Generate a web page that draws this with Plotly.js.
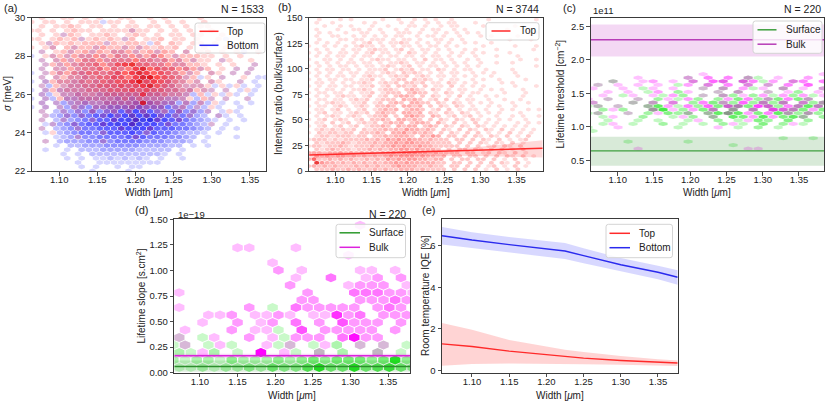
<!DOCTYPE html>
<html><head><meta charset="utf-8">
<script src="https://cdn.plot.ly/plotly-3.0.1.min.js"></script>
<style>html,body{margin:0;padding:0;background:#fff}#chart{width:830px;height:409px}</style>
</head><body><div id="chart"></div>
<script>
// ================= DATA =================
const xTickVals = [1.10, 1.15, 1.20, 1.25, 1.30, 1.35];

// (a) hexbin counts level (1-9), rows listed from top (high sigma) to bottom; '.' = empty
const aTopRows = [
".1..11.1.1..11..1.1....1.........",
"1.11.1.111.11.1..1.1.1..1........",
".1.1121.11.1.11.11.1.1.11........",
"11.1.1211.1111211.1.1.1..1.......",
".1.1121.1121.121.1.11.11..1......",
"11.121211212112.112.11.1..1......",
".112121222121221.2.21.11.1.......",
"1.12.2222232222221212.1.1..1.....",
".1.12223232333223232.2.12.1.1..1.",
"..122233343343433442222211.1.1...",
".1.2323444344454434332211.11..1..",
"..12233445446785544433221.1.1..1.",
".1.2233445454578665544322.1.1.1..",
"..1233445545667876654322.21.1.1..",
".1.22334455665789765422.1.1..1...",
"..1233344455667967654322.21..1...",
".1.2233445556567865432221.1.1....",
"..122333444555656554433221.1..1..",
".1.1223333444447444332.2.1.1.....",
"..1.2223333334343332221.21.1..1..",
".1.1.122223333383322.2.2.1.......",
"..1.1.21.2222232222.12.1.1.......",
".1..1.1.2.12.2.2.12.2.1.1..1.....",
"..1..1.1..1.1.1.1.1.1.1...1......",
".1..1...1..1..1..1..1............",
"...1..1...1...1....1.....1.......",
".1....1.....1...1................",
"...1......1.....1................",
"......1.......1..................",
"..1.......1......................",
".................................",
".................................",
".................................",
".................................",
".................................",
".................................",
"................................."];
const aBottomRows = [
".................................",
"..........1......................",
".................................",
"..............1..................",
"....1............................",
".......1.....1.............1.....",
"..1.......1.....1................",
"...1..1..1...1.1.................",
".1...1..1..11.1..1...1.......1...",
"1..1.1.11.1.11.1.1..1............",
".1.1.1.11.1111.1111.1.1...1......",
"..1.1.1111.111.1111.11.........1.",
".1.11.1111.11.11.111.1.1....1.1..",
"1.1.1.1211112.111.111.1..1..1.1..",
".1.1.11211121.121.1111.1..1....11",
"1.2.112212121121211211.1.1...1.1.",
".12.12222222222221221111.1.1.1.1.",
"1.2.2222222222222222212.11.1.1.1.",
".22.2232233333333322222.1.1.1.1..",
"1.22.33333334343333332.2.1.1..1..",
".2.2333433444455544433322.1.1.1..",
"1.2.233444455556555543322.1..1...",
".1.2334454556676654554432.1.1....",
"..12344556676787876655432.21.1...",
".1.23345566778989776654321.1.1...",
"..123455667787987766554321.1.....",
".1.2344556667787766655432.1.1....",
"..1.234554566676565543221.1......",
"...12334455556665554432.1...1....",
"..1.2333444455554443332.1........",
"...1.2233344444333322.1.1........",
"..1..1.2223333322222.1...........",
"....1.1.22222222221.1............",
".....1.1.11212121.1..1...........",
"......1..111111111...............",
".......1.1..1.11.................",
"........1....1..................."];

// (b) hexbin levels, rows from top (ratio 150) to bottom (0)
const bTopRows = [
"..1...1.1.....1..1..1.1.1..1......1........1",
".1..1.....1.1....1.1..1.1.11...1............",
"...1..1.1...1..1...11.1..1.11....1.....1....",
".1...1..11.1.1..1.1..1.11..1.1.......1......",
"..1.1..1..11..1..111.1..1.1.1.1.1..........1",
".1..11..1.1.1.1.11..1.11.1..1...1.1....1....",
"..1...11.11.111.1.11.1..11.1.1........1...1.",
".1.1.1..1.12.1.1121.1.1.1.1..1.1..1.........",
"1..1.1.1.1211.1.1.11.1.11.1.1....1.....1...1",
".1.1..1.11.1211.12.1.11.1.1..1.1...1......1.",
"1.1.1.11.1.12.11.1.21.1.1..1.1.1.1....1.....",
".1.1.11.1.11.1.11.11.1.11.1.1..1...1...1....",
"1..11.1.1.1.1211.11.1.2.11.1..1.1.......1..1",
".1.1.1.11.11.1.1121.11.1.1.1.1..1..1..1.....",
"1.1.1.11.1.11.121.12.1.11.1.1.1.1..........1",
".1.11.11.1.1112.1212.11.21.1.11..1....1.....",
"1.1.1.1.11.11.121.2121.1.1.11..1.1.1...1....",
".1.1.11.1.1211.1212.121.11.1.1.1..1....1....",
"1.1.11.11.112.1.122.2121.1.11..1.1..1....1..",
".11.1.1.1121.1212.2212.11.21.1.1....1.1.....",
"1.1.11.11.112.12.2212.2.11.2.1.1.1.....1...1",
".1.11.1.1121.1221.2321.21.1.11..1.1.1...1...",
"1.11.11.1.112.1222.2322.1.21.1.11....1...1..",
".1.1.1211.12.12.2332.2.21.1.2.1..1.1....1...",
"1.11.11.1212.1222.3232.12.2.1.11..1..1..1...",
".1.1211.112.12.232.3322.21.21.1.1.1...1..1..",
"1.11.121.121.2232.3323.2.21.21.1..1.1..1....",
".11.12.1.12.12323.2332.12.2.1.11.1..1.1..1.1",
"1.12.11.1212.2322.3323.21.21.21.1.1.1...1...",
".1.121.121.1223.2.3432.32.12.12.1..1..1.1..1",
"1.12.121.12.2232.33232.2.21.21.21.1.1.1..1..",
".11.2.12.1212.2323.2332.31.2.1.2.1.1...1.1.1",
"1.12.12.12.12232.3233.232.21.21.21.1.1.1.1..",
".12121212.21223232433232.21.2.21.21.2.1.1.1.",
"1.2122122.22232.33423232.2.21.2.2.1.1.2.1.1.",
".1221222122.22323332.3243.22.2.21.21.2.1.2.",
"122212122223232434343323222.22.2.21.2.1.12.",
".21222321222323343443332222.2.2.21.21.2.1..",
"12212232122232334343343322222.2.2.12.21.2.",
".212322212232323344343332.2.22.21.2.2.1.2.",
"22212232323232334344433232222.22.12.21.2.1",
".3232332323232343444343323.22.22.2.2.21.2.1",
"36223232322323243434433233.2.22.22.2.1.2.1.",
".8433232323232334343333322.22.2.2.2.21.2.1.",
"23232322232323223433322322.22.2.2.12.1.2.1.",
".2223223232232322333232222.2.2.2.1.2.1.2..."];
// (b) linear fit of Top and its confidence band
const bFitX = [1.064, 1.386];
const bFitY = [15.7, 22.2];
const bBandX = [1.064, 1.10, 1.15, 1.20, 1.25, 1.30, 1.34, 1.386];
const bBandHigh = [19.0, 18.6, 18.6, 19.3, 21.0, 23.8, 26.5, 30.0];
const bBandLow  = [12.3, 13.4, 14.3, 15.0, 15.0, 14.6, 14.0, 13.2];

// (c) lifetime threshold (units of 1e11 cm^-2)
const cSurfaceRows = [
"........................",
"........................",
"..........1.....21......",
"..2.......1..1.2.1..1...",
".1.......1..1...1.1.....",
".....1.....1.2..1..2...1",
"......1..2...1.2..1..2..",
"...1...1.2.1.22.2.1.2.1.",
"..1..1.2.1.2.2.3.223.32.",
"1...2.2.1.2.322.2323.223",
"12.1..34.1.2.3343.32.343",
".2.2..45.2.33.4.3.2233.3",
"12..1.2.323.3454.3.43232",
".1...2..1.2.3.43.4.343.2",
"..1..1.1..1..2.1.32.3.2.",
".1..1..2.1.1.2.1.3.2.1..",
"1........1.....1.2.1....",
"1.......................",
"........................",
"...................1..1.",
"....1.....1.............",
"..............1.........",
"........................",
"........................"];
const cBulkRows = [
"........................",
"...........1...........1",
".....1....2.3.3.2..1..2.",
"..1..12.1.3.44.43.2.33.3",
".1.1.1.1..2.3.3.3.2.3.4.",
"1..1..1.1..1.2.2.1.2.1.2",
"..1.1..2..1..1.2..1.1..1",
".1..1.1.2..1.2.1.2.2.2.1",
"1.1..1..1.2...2.3.2.3.2.",
"2...1.2.3..3.2.4.3.3.3.2",
".1.1..1.2.3.4.43.54.33.3",
"..1...2.1.2.3.2.3.543.2.",
".1..1..1..1.1.2.2.3.2.2.",
"..1......1..1...2.2..1..",
"...........1....1.......",
"..1...........1.....1...",
"...1.........1..........",
"........................",
"........................",
"........................",
"........................",
"........................",
".....1..........11......",
"........................"];
const cSurfaceFit = [0.64, 0.42, 0.85];  // value, low, high (1e11)
const cBulkFit    = [2.30, 2.05, 2.53];

// (d) lifetime slope (units of 1e-19 s.cm^2)
const dSurfaceRows = [
".....................",
".....................",
".....................",
".....................",
".....................",
".....................",
".....................",
".....................",
".....................",
".....................",
".....................",
".....................",
"........1............",
".....................",
".....................",
".........1...........",
"1.1......1...........",
"11.1.1...11.1.2.1.1.1",
"21.2.1.2..1.2.2..2.1.",
"212213222323434443473",
"112122324335744745643"];
const dBulkRows = [
".....................",
"................1....",
".....................",
".....................",
".....11...1..........",
"...............1.....",
"........1............",
".........2.1....11.1.",
"..........1..3..12.2.",
"..........2....1222.1",
"1..........2...333221",
"...........22...22232",
"1.....2...322222.232.",
"...112.1121.11523.222",
"..1..2.12.3.2.4222.2.",
".1...2.11..4.22222.2.",
"1..1..2.1.222.3622...",
".1..1...1.1..1..1.1..",
"..1....7.1..1....1...",
".....................",
"....................."];
const dSurfaceFit = [0.06, 0.01, 0.12];
const dBulkFit    = [0.166, 0.147, 0.186];

// (e) room temperature IQE [%]
const eX          = [1.0597, 1.10, 1.15, 1.20, 1.225, 1.25, 1.30, 1.35, 1.3765];
const eBottom     = [6.48, 6.27, 6.05, 5.85, 5.74, 5.52, 5.08, 4.72, 4.48];
const eBottomHigh = [6.90, 6.65, 6.42, 6.22, 6.13, 5.88, 5.40, 5.03, 4.82];
const eBottomLow  = [6.05, 5.88, 5.68, 5.48, 5.36, 5.15, 4.75, 4.38, 4.12];
const eTop        = [1.27, 1.14, 0.92, 0.74, 0.66, 0.58, 0.47, 0.39, 0.35];
const eTopHigh    = [2.28, 1.95, 1.45, 1.12, 0.98, 0.88, 0.68, 0.53, 0.47];
const eTopLow     = [0.22, 0.30, 0.32, 0.32, 0.31, 0.29, 0.26, 0.22, 0.20];

const nLabels = ['N = 1533', 'N = 3744', 'N = 220', 'N = 220'];

// ================= DRAWING =================
const W = 830, H = 409;
const dom = {
  a: {x: [31.7, 266.0], y: [17.7, 171.0]},
  b: {x: [309.0, 542.7], y: [17.7, 171.0]},
  c: {x: [590.7, 824.0], y: [17.7, 171.0]},
  d: {x: [174.3, 410.0], y: [219.3, 372.7]},
  e: {x: [442.0, 677.7], y: [219.3, 372.7]}
};
const ranges = {
  a: {x: [1.064, 1.371], y: [22, 30]},
  b: {x: [1.0637, 1.386], y: [0, 150]},
  c: {x: [1.0628, 1.3845], y: [0.34, 2.63]},
  d: {x: [1.066, 1.379], y: [0, 1.5]},
  e: {x: [1.0597, 1.3765], y: [-0.12, 7.27]}
};
const grids = {
  a: {x0: 1.068, dx: 0.00945, y0: 22.0, dy: 0.2222},
  b: {x0: 1.067, dx: 0.0073, y0: 1.6, dy: 3.26},
  c: {x0: 1.066, dx: 0.0138, y0: 0.62, dy: 0.053},
  d: {x0: 1.0725, dx: 0.0155, y0: 0.05, dy: 0.0733}
};
const axIds = {a: ['x', 'y'], b: ['x2', 'y2'], c: ['x3', 'y3'], d: ['x4', 'y4'], e: ['x5', 'y5']};

function hexTraces(rows, g, rgb, ax, a0, step, dark) {
  const n = rows.length, k = 0.9, byL = {};
  rows.forEach((s, i) => {
    const r = n - 1 - i;
    const yc = g.y0 + r * g.dy;
    const shift = (r % 2) ? -0.5 : 0;
    for (let c = 0; c < s.length; c++) {
      const ch = s[c];
      if (ch < '1' || ch > '9') continue;
      const L = +ch;
      const xc = g.x0 + (c + shift) * g.dx;
      const o = byL[L] || (byL[L] = {x: [], y: []});
      const hw = g.dx / 2 * k, h1 = g.dy * 2 / 3 * k, h2 = g.dy / 3 * k;
      o.x.push(xc, xc + hw, xc + hw, xc, xc - hw, xc - hw, xc, null);
      o.y.push(yc + h1, yc + h2, yc - h2, yc - h1, yc - h2, yc + h2, yc + h1, null);
    }
  });
  return Object.keys(byL).sort().map(L => {
    const lv = +L;
    const col = (lv >= 8 && dark) ? dark : rgb;
    const al = Math.min(1, a0 + step * lv);
    return {type: 'scatter', mode: 'lines', x: byL[L].x, y: byL[L].y, fill: 'toself',
      fillcolor: 'rgba(' + col + ',' + al.toFixed(3) + ')', line: {width: 0, color: 'rgba(0,0,0,0)'},
      xaxis: ax[0], yaxis: ax[1], hoverinfo: 'skip', showlegend: false};
  });
}
function band(x, lo, hi, col, ax) {
  return [
    {type: 'scatter', mode: 'lines', x: x, y: lo, line: {width: 0, color: 'rgba(0,0,0,0)'}, xaxis: ax[0], yaxis: ax[1], hoverinfo: 'skip', showlegend: false},
    {type: 'scatter', mode: 'lines', x: x, y: hi, fill: 'tonexty', fillcolor: col, line: {width: 0, color: 'rgba(0,0,0,0)'}, xaxis: ax[0], yaxis: ax[1], hoverinfo: 'skip', showlegend: false}
  ];
}
function line(x, y, col, w, name, ax) {
  return {type: 'scatter', mode: 'lines', x: x, y: y, line: {color: col, width: w}, xaxis: ax[0], yaxis: ax[1], hoverinfo: 'skip', name: name || '', showlegend: false};
}
function hline(fit, p, col, bandCol, name) {
  const xr = ranges[p].x;
  return [].concat(band(xr, [fit[1], fit[1]], [fit[2], fit[2]], bandCol, axIds[p]),
    [line(xr, [fit[0], fit[0]], col, 1.4, name, axIds[p])]);
}

const RED = '255,0,0', BLUE = '0,0,255', GREEN = '0,225,0', MAG = '255,0,255';
const COL = {top: '#ff2a2a', bottom: '#2a2aee', surfC: '#3f9f3f', bulkC: '#b73db7', surfD: '#2d9a2d', bulkD: '#dd22dd'};
let traces = [];
// (a)
traces = traces.concat(hexTraces(aBottomRows, grids.a, BLUE, axIds.a, 0.07, 0.09, '20,20,235'));
traces = traces.concat(hexTraces(aTopRows, grids.a, RED, axIds.a, 0.07, 0.09, '230,0,0'));
// (b)
traces = traces.concat(hexTraces(bTopRows, grids.b, RED, axIds.b, 0.04, 0.09, '230,0,0'));
traces = traces.concat(band(bBandX, bBandLow, bBandHigh, 'rgba(255,0,0,0.15)', axIds.b));
traces.push(line(bFitX, bFitY, COL.top, 1.4, 'Top', axIds.b));
// (c)
traces = traces.concat(hexTraces(cSurfaceRows, grids.c, GREEN, axIds.c, 0.12, 0.12, '0,200,0'));
traces = traces.concat(hexTraces(cBulkRows, grids.c, MAG, axIds.c, 0.12, 0.12, '230,0,230'));
traces = traces.concat(hline(cSurfaceFit, 'c', COL.surfC, 'rgba(40,140,40,0.18)', 'Surface'));
traces = traces.concat(hline(cBulkFit, 'c', COL.bulkC, 'rgba(200,60,200,0.2)', 'Bulk'));
// (d)
traces = traces.concat(hexTraces(dSurfaceRows, grids.d, GREEN, axIds.d, 0.1, 0.11, '0,160,0'));
traces = traces.concat(hexTraces(dBulkRows, grids.d, MAG, axIds.d, 0.12, 0.14, '230,0,230'));
traces = traces.concat(hline(dSurfaceFit, 'd', '#2d8f2d', 'rgba(40,140,40,0.15)', 'Surface'));
traces = traces.concat(hline(dBulkFit, 'd', COL.bulkD, 'rgba(220,40,220,0.2)', 'Bulk'));
// (e)
traces = traces.concat(band(eX, eBottomLow, eBottomHigh, 'rgba(60,60,255,0.2)', axIds.e));
traces = traces.concat(band(eX, eTopLow, eTopHigh, 'rgba(255,60,60,0.22)', axIds.e));
traces.push(line(eX, eTop, COL.top, 1.4, 'Top', axIds.e));
traces.push(line(eX, eBottom, COL.bottom, 1.4, 'Bottom', axIds.e));

// ---- layout ----
const AXC = '#3a3a3a';
function ax(p, isX) {
  const d = dom[p];
  const domain = isX ? [d.x[0] / W, d.x[1] / W] : [1 - d.y[1] / H, 1 - d.y[0] / H];
  const o = {domain: domain, range: isX ? ranges[p].x : ranges[p].y, anchor: isX ? axIds[p][1] : axIds[p][0],
    showgrid: false, zeroline: false, showline: true, mirror: true, linecolor: AXC, linewidth: 1,
    ticks: 'outside', ticklen: 3.5, tickwidth: 0.9, tickcolor: AXC,
    tickfont: {size: 9.5, color: '#222'}, fixedrange: true};
  if (isX) o.ticklabelstandoff = -4;
  return o;
}
const layout = {
  width: W, height: H, margin: {l: 0, r: 0, t: 0, b: 0}, paper_bgcolor: '#fff', plot_bgcolor: '#fff',
  font: {family: '"Liberation Sans", Arial, Helvetica, sans-serif', color: '#222', size: 10},
  showlegend: false, annotations: [], shapes: [], hovermode: false
};
['a', 'b', 'c', 'd', 'e'].forEach((p, i) => {
  const xs = i === 0 ? 'xaxis' : 'xaxis' + (i + 1), ys = i === 0 ? 'yaxis' : 'yaxis' + (i + 1);
  const X = ax(p, true), Y = ax(p, false);
  X.tickvals = xTickVals; X.tickformat = '.2f';
  layout[xs] = X; layout[ys] = Y;
});
layout.yaxis.tickvals = [22, 24, 26, 28, 30];
layout.yaxis2.tickvals = [0, 25, 50, 75, 100, 125, 150];
layout.yaxis3.tickvals = [0.5, 1.0, 1.5, 2.0, 2.5]; layout.yaxis3.tickformat = '.1f';
layout.yaxis4.tickvals = [0, 0.25, 0.5, 0.75, 1.0, 1.25, 1.5]; layout.yaxis4.tickformat = '.2f';
layout.yaxis5.tickvals = [0, 2, 4, 6];

function ann(text, xpx, ypx, opts) {
  layout.annotations.push(Object.assign({text: text, x: xpx / W, y: 1 - ypx / H, xref: 'paper', yref: 'paper',
    showarrow: false, xanchor: 'center', yanchor: 'middle', font: {size: 10, color: '#222'}}, opts || {}));
}
// legend boxes (matplotlib-style: rounded frame, short line handles)
function px(x) { return x / W; }
function py(y) { return 1 - y / H; }
function legendBox(x0, x1, y0, y1, lx0, lx1, tx, items) {
  const r = 2.5;
  const p = 'M' + px(x0 + r) + ',' + py(y0) + ' L' + px(x1 - r) + ',' + py(y0) +
    ' Q' + px(x1) + ',' + py(y0) + ' ' + px(x1) + ',' + py(y0 + r) +
    ' L' + px(x1) + ',' + py(y1 - r) + ' Q' + px(x1) + ',' + py(y1) + ' ' + px(x1 - r) + ',' + py(y1) +
    ' L' + px(x0 + r) + ',' + py(y1) + ' Q' + px(x0) + ',' + py(y1) + ' ' + px(x0) + ',' + py(y1 - r) +
    ' L' + px(x0) + ',' + py(y0 + r) + ' Q' + px(x0) + ',' + py(y0) + ' ' + px(x0 + r) + ',' + py(y0) + ' Z';
  layout.shapes.push({type: 'path', path: p, xref: 'paper', yref: 'paper', fillcolor: 'rgba(255,255,255,0.82)',
    line: {color: '#d4d4d4', width: 1}, layer: 'above'});
  items.forEach(it => {
    layout.shapes.push({type: 'line', xref: 'paper', yref: 'paper', x0: px(lx0), x1: px(lx1), y0: py(it[2]), y1: py(it[2]),
      line: {color: it[1], width: 1.5}, layer: 'above'});
    ann(it[0], tx, it[2], {xanchor: 'left', font: {size: 10, color: '#222'}});
  });
}
legendBox(195, 265, 23, 53, 199.5, 218.5, 224.5, [['Top', COL.top, 31.3], ['Bottom', COL.bottom, 45.3]]);
legendBox(486, 539, 22.7, 40, 491.5, 510.5, 517.5, [['Top', COL.top, 31]]);
legendBox(753, 822, 21, 53.3, 757.5, 776.5, 784, [['Surface', COL.surfC, 29.8], ['Bulk', COL.bulkC, 44.2]]);
legendBox(336, 405.5, 224.3, 257.7, 339.5, 360, 367, [['Surface', COL.surfD, 232.8], ['Bulk', COL.bulkD, 247.3]]);
legendBox(606, 672.5, 224.3, 257.7, 609.5, 630, 636.5, [['Top', COL.top, 233.3], ['Bottom', COL.bottom, 247.7]]);

// panel letters
ann('(a)', 10.5, 8, {font: {size: 11, color: '#222'}});
ann('(b)', 284.5, 7.5, {font: {size: 11, color: '#222'}});
ann('(c)', 569.5, 8, {font: {size: 11, color: '#222'}});
ann('(d)', 141.5, 210, {font: {size: 11, color: '#222'}});
ann('(e)', 428.5, 210, {font: {size: 11, color: '#222'}});
// N labels
ann(nLabels[0], 266, 9.5, {xanchor: 'right', font: {size: 10.5, color: '#222'}});
ann(nLabels[1], 541, 9.5, {xanchor: 'right', font: {size: 10.5, color: '#222'}});
ann(nLabels[2], 823, 9.5, {xanchor: 'right', font: {size: 10.5, color: '#222'}});
ann(nLabels[3], 408, 213.5, {xanchor: 'right', font: {size: 10.5, color: '#222'}});
// offsets
ann('1e11', 590.5, 11, {xanchor: 'left', font: {size: 9.5, color: '#222'}});
ann('1e\u221219', 175.5, 214, {xanchor: 'left', font: {size: 9.5, color: '#222'}});
// x titles
ann('Width [<i>\u03bc</i>m]', 149, 192.5);
ann('Width [<i>\u03bc</i>m]', 426, 192.5);
ann('Width [<i>\u03bc</i>m]', 707, 192.5);
ann('Width [<i>\u03bc</i>m]', 292, 395.5);
ann('Width [<i>\u03bc</i>m]', 560, 395.5);
// y titles
ann('<i>\u03c3</i> [meV]', 7, 94, {textangle: -90});
ann('Intensity ratio (bulk/surface)', 278, 94, {textangle: -90});
ann('Lifetime threshold [cm<sup>\u22122</sup>]', 559.5, 94, {textangle: -90});
ann('Lifetime slope [s.cm<sup>2</sup>]', 140.5, 296, {textangle: -90});
ann('Room temperature IQE [%]', 425, 296, {textangle: -90});

Plotly.newPlot('chart', traces, layout, {staticPlot: true, displayModeBar: false});
</script></body></html>
